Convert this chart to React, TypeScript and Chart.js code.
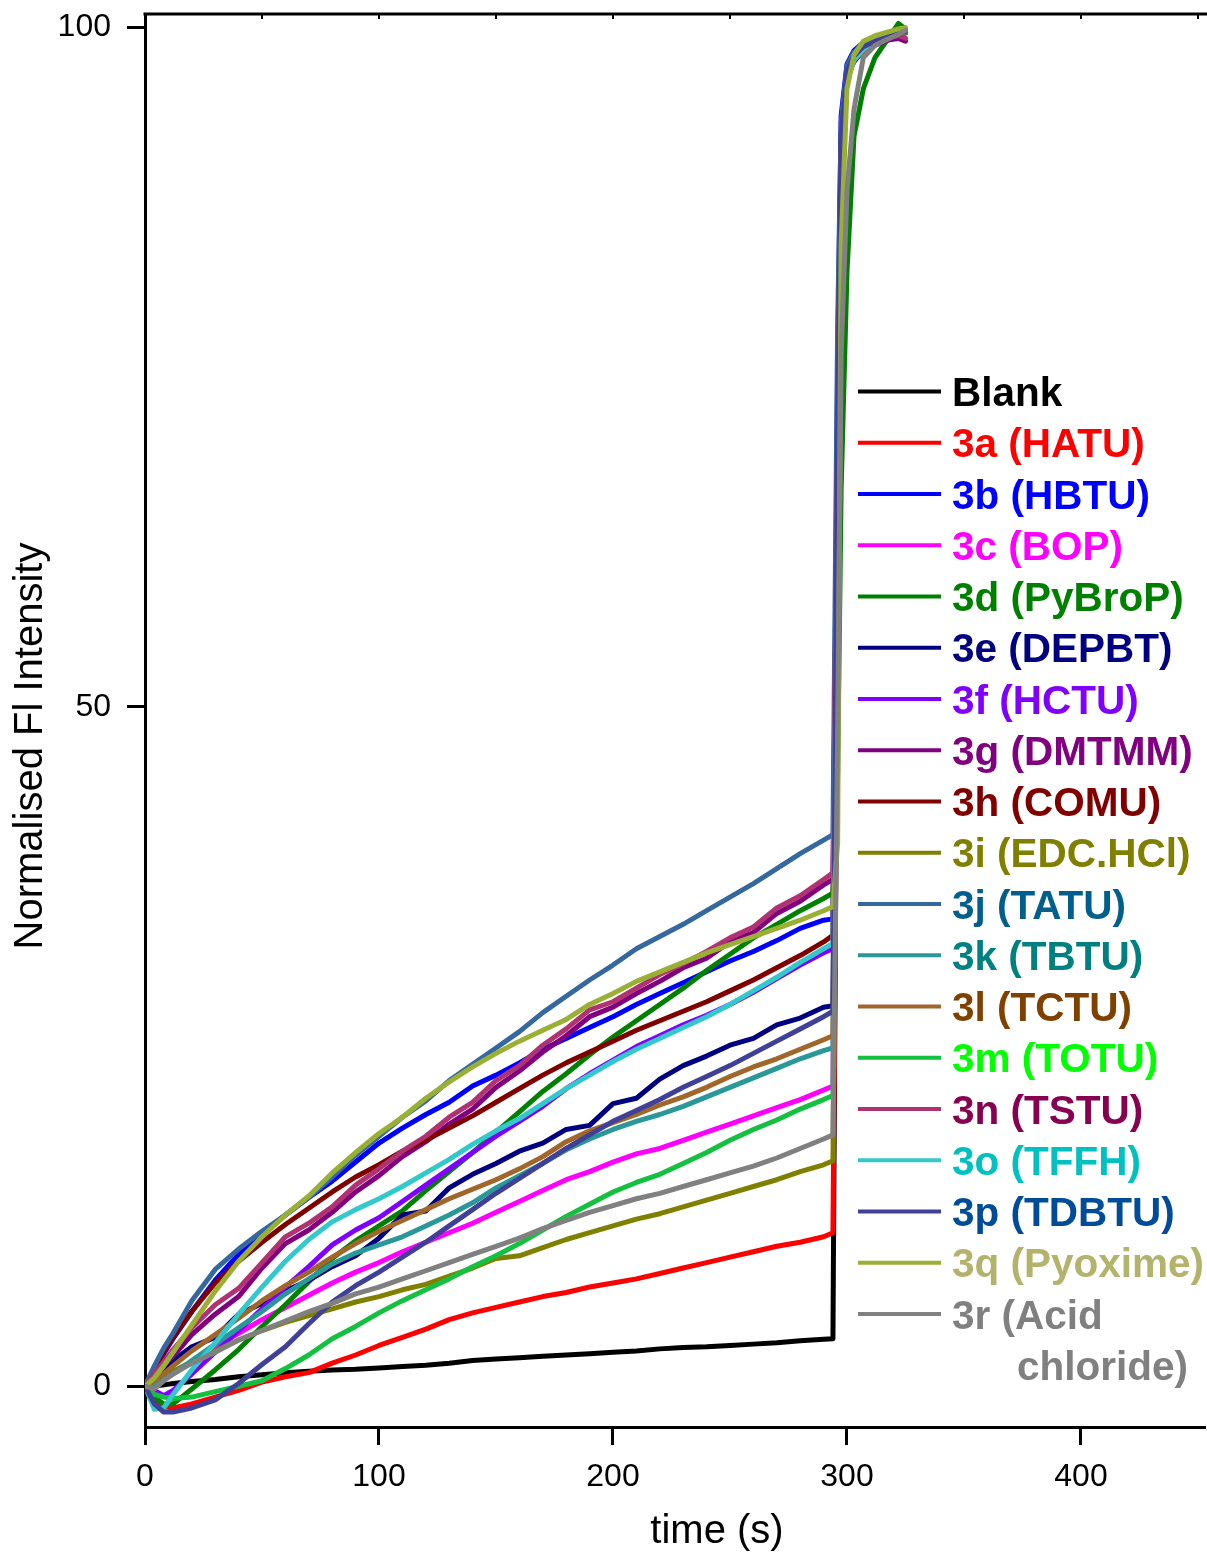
import React, { useEffect, useRef } from 'react';
import { Chart, registerables } from 'chart.js';

Chart.register(...registerables);

const FONT = '"Liberation Sans", Arial, Helvetica, sans-serif';

// time axis of the slow phase (s) and of the jump after the trigger (s)
const TIME_MAIN = [0, 4, 8, 12, 20, 30, 40, 50, 60, 70, 80, 90, 100, 110, 120, 130, 140, 150, 160, 170, 180, 190, 200, 210, 220, 230, 240, 250, 260, 270, 280, 290, 294];
const TIME_TAIL = [296, 297.5, 300, 303, 307, 312, 318, 322, 325];

const X_TICKS = [0, 100, 200, 300, 400];
const Y_TICKS = [0, 50, 100];

const SERIES_NAMES = ['Blank', '3a (HATU)', '3b (HBTU)', '3c (BOP)', '3d (PyBroP)', '3e (DEPBT)', '3f (HCTU)', '3g (DMTMM)', '3h (COMU)', '3i (EDC.HCl)', '3j (TATU)', '3k (TBTU)', '3l (TCTU)', '3m (TOTU)', '3n (TSTU)', '3o (TFFH)', '3p (TDBTU)', '3q (Pyoxime)', '3r (Acid\nchloride)'];
const LINE_COLORS = ['#000000', '#ff0000', '#0000ff', '#ff00ff', '#008000', '#000080', '#8000ff', '#800080', '#800000', '#808000', '#3668a0', '#2a9898', '#a0662a', '#14c040', '#b03272', '#33c8cc', '#404098', '#9ab034', '#808080'];
const TEXT_COLORS = ['#000000', '#ff0000', '#0000ff', '#ff00ff', '#008000', '#000080', '#8000ff', '#800080', '#800000', '#808000', '#005f8c', '#008080', '#804000', '#00ff00', '#880050', '#00c0c0', '#004c99', '#b3b36b', '#808080'];

const blankMain = [0, 0.05, 0.1, 0.2, 0.35, 0.5, 0.7, 0.85, 1.0, 1.1, 1.2, 1.25, 1.35, 1.45, 1.55, 1.7, 1.9, 2.0, 2.1, 2.2, 2.3, 2.4, 2.5, 2.6, 2.75, 2.85, 2.9, 3.0, 3.1, 3.2, 3.35, 3.45, 3.5];
const hatuMain = [0, -1.0, -1.5, -1.6, -1.3, -0.8, -0.3, 0.3, 0.7, 1.0, 1.7, 2.3, 3.0, 3.6, 4.2, 4.9, 5.4, 5.8, 6.2, 6.6, 6.9, 7.3, 7.6, 7.9, 8.3, 8.7, 9.1, 9.5, 9.9, 10.3, 10.6, 11.0, 11.3];
const hbtuMain = [0, 1.2, 2.4, 3.5, 5.5, 7.8, 9.7, 11.2, 12.6, 13.9, 15.1, 16.5, 17.9, 19.0, 20.0, 20.9, 22.1, 22.9, 23.8, 24.8, 25.6, 26.4, 27.2, 28.1, 28.9, 29.7, 30.5, 31.3, 32.0, 32.8, 33.7, 34.3, 34.4];
const bopMain = [0, 0.3, 0.6, 1.0, 1.8, 2.9, 3.9, 4.9, 5.8, 6.7, 7.6, 8.4, 9.1, 9.9, 10.6, 11.3, 12.0, 12.8, 13.6, 14.4, 15.2, 15.8, 16.5, 17.1, 17.5, 18.1, 18.7, 19.3, 19.9, 20.5, 21.1, 21.8, 22.1];
const pybropMain = [0, -0.8, -1.3, -1.3, -0.2, 1.2, 2.7, 4.4, 6.0, 7.7, 9.4, 10.7, 11.8, 12.9, 14.4, 15.8, 17.2, 18.7, 20.2, 21.7, 23.0, 24.4, 25.7, 26.9, 28.1, 29.3, 30.6, 31.8, 33.0, 34.0, 35.0, 35.9, 36.3];
const depbtMain = [0, 0.6, 1.2, 1.9, 2.9, 3.6, 5.3, 6.1, 7.0, 7.8, 8.8, 9.6, 10.9, 12.6, 12.9, 14.6, 15.6, 16.4, 17.3, 17.9, 18.9, 19.2, 20.8, 21.2, 22.6, 23.6, 24.3, 25.1, 25.6, 26.6, 27.1, 27.9, 28.0];
const hctuMain = [0, -0.3, -0.7, -0.3, 0.9, 2.5, 4.1, 5.7, 7.3, 8.8, 10.4, 11.5, 12.4, 13.6, 14.8, 16.0, 17.2, 18.4, 19.5, 20.6, 21.9, 23.0, 24.0, 25.0, 25.8, 26.6, 27.3, 28.1, 29.0, 30.0, 31.0, 31.9, 32.2];
const dmtmmMain = [0, 0.7, 1.5, 2.2, 3.8, 5.3, 6.6, 8.7, 10.5, 11.5, 12.8, 14.3, 15.5, 16.9, 18.0, 19.3, 20.4, 22.0, 23.2, 24.6, 25.8, 27.2, 27.9, 28.9, 29.8, 30.8, 31.5, 32.7, 33.4, 34.8, 35.7, 36.9, 37.3];
const comuMain = [0, 1.3, 2.5, 3.6, 5.5, 7.6, 9.2, 10.6, 11.9, 13.1, 14.3, 15.4, 16.3, 17.3, 18.1, 19.0, 19.9, 20.9, 21.9, 22.9, 23.8, 24.6, 25.4, 26.2, 26.9, 27.6, 28.3, 29.1, 29.9, 30.8, 31.7, 32.7, 33.2];
const edcMain = [0, 0.4, 0.8, 1.1, 1.8, 2.6, 3.4, 4.1, 4.7, 5.2, 5.7, 6.2, 6.6, 7.1, 7.5, 8.1, 8.7, 9.4, 9.6, 10.2, 10.8, 11.3, 11.8, 12.3, 12.7, 13.2, 13.7, 14.2, 14.7, 15.2, 15.8, 16.3, 16.6];
const tatuMain = [0, 1.5, 2.8, 3.9, 6.3, 8.6, 10.1, 11.4, 12.6, 13.9, 15.4, 17.0, 18.4, 19.8, 21.0, 22.5, 23.7, 24.9, 26.1, 27.5, 28.7, 29.9, 31.0, 32.2, 33.1, 34.0, 35.0, 36.0, 37.0, 38.1, 39.2, 40.2, 40.6];
const tbtuMain = [0, 0.2, 0.5, 0.9, 1.9, 3.1, 4.3, 5.5, 6.8, 7.9, 9.0, 9.8, 10.4, 11.0, 11.8, 12.6, 13.5, 14.6, 15.5, 16.4, 17.4, 18.2, 18.9, 19.5, 20.0, 20.6, 21.3, 22.0, 22.7, 23.4, 24.1, 24.7, 24.9];
const tctuMain = [0, 0.4, 0.9, 1.5, 2.6, 3.8, 5.0, 6.3, 7.4, 8.4, 9.5, 10.5, 11.4, 12.2, 13.0, 13.8, 14.5, 15.2, 16.0, 16.9, 18.0, 18.8, 19.4, 20.0, 20.7, 21.3, 22.0, 22.8, 23.5, 24.1, 24.8, 25.5, 25.8];
const totuMain = [0, -0.6, -0.8, -0.9, -0.8, -0.4, 0.0, 0.4, 1.3, 2.3, 3.5, 4.4, 5.4, 6.3, 7.1, 7.9, 8.8, 9.6, 10.5, 11.5, 12.5, 13.4, 14.3, 15.0, 15.6, 16.4, 17.2, 18.1, 18.9, 19.6, 20.4, 21.1, 21.4];
const tstuMain = [0, 0.9, 1.8, 2.7, 4.3, 6.0, 7.2, 9.1, 11.0, 12.0, 13.2, 14.8, 16.0, 17.3, 18.4, 19.8, 20.9, 22.5, 23.6, 25.1, 26.3, 27.7, 28.3, 29.3, 30.3, 31.1, 32.0, 33.0, 33.8, 35.2, 36.1, 37.3, 37.8];
const tffhMain = [0, -1.7, -1.6, -0.6, 1.2, 3.2, 5.3, 7.3, 9.2, 10.8, 12.1, 13.0, 13.8, 14.7, 15.7, 16.7, 17.8, 18.8, 19.7, 20.8, 21.9, 22.9, 23.9, 24.8, 25.6, 26.4, 27.2, 28.1, 29.1, 30.1, 31.2, 32.2, 32.6];
const tdbtuMain = [0, -1.3, -1.9, -1.9, -1.6, -1.0, 0.2, 1.6, 2.9, 4.6, 6.2, 7.4, 8.4, 9.5, 10.6, 11.8, 13.0, 14.2, 15.3, 16.4, 17.5, 18.5, 19.5, 20.3, 21.1, 22.0, 22.8, 23.6, 24.5, 25.4, 26.3, 27.2, 27.6];
const pyoximeMain = [0, 0.6, 1.5, 2.5, 4.5, 7.0, 9.2, 11.0, 12.6, 14.0, 15.7, 17.2, 18.6, 19.8, 21.2, 22.4, 23.5, 24.5, 25.4, 26.2, 27.0, 28.1, 28.9, 29.8, 30.5, 31.2, 31.9, 32.5, 33.1, 33.7, 34.3, 35.0, 35.3];
const acidMain = [0, -0.2, 0.4, 0.9, 1.7, 2.5, 3.4, 4.1, 4.8, 5.5, 6.1, 6.8, 7.3, 7.9, 8.5, 9.1, 9.7, 10.3, 10.9, 11.6, 12.2, 12.8, 13.3, 13.8, 14.2, 14.7, 15.2, 15.7, 16.2, 16.8, 17.5, 18.2, 18.5];

const blankTail = [60, 89, 96.4, 97.9, 98.6, 99.0, 99.4, 99.6, 99.7];
const hatuTail = [55, 88, 96.3, 97.8, 98.6, 99.1, 99.4, 99.6, 99.8];
const hbtuTail = [75, 93.5, 97.3, 98.3, 98.9, 99.2, 99.5, 99.7, 99.9];
const bopTail = [65, 90, 96.6, 98.0, 98.7, 99.1, 99.4, 99.6, 99.7];
const pybropTail = [45, 66, 82, 92, 95.5, 97.8, 99.3, 100.3, 99.9];
const depbtTail = [68, 91.5, 96.5, 97.5, 98.3, 98.9, 99.3, 99.5, 99.6];
const hctuTail = [66, 90.5, 96.6, 97.9, 98.5, 99.0, 99.4, 99.6, 99.7];
const dmtmmTail = [66, 90, 96.2, 97.6, 98.2, 98.7, 99.1, 99.2, 99.0];
const comuTail = [72, 92, 96.8, 98.0, 98.7, 99.1, 99.5, 99.7, 99.8];
const edcTail = [60, 89, 96.5, 98.0, 98.7, 99.1, 99.5, 99.6, 99.7];
const tatuTail = [78, 93, 97.2, 98.2, 98.8, 99.2, 99.5, 99.7, 99.8];
const tbtuTail = [64, 90, 96.5, 97.9, 98.6, 99.1, 99.4, 99.6, 99.7];
const tctuTail = [64, 90, 96.4, 97.6, 98.3, 98.9, 99.3, 99.5, 99.6];
const totuTail = [62, 89, 96.3, 97.8, 98.6, 99.0, 99.4, 99.6, 99.7];
const tstuTail = [70, 91, 96.4, 97.8, 98.4, 98.9, 99.3, 99.4, 99.2];
const tffhTail = [66, 90, 96.0, 97.6, 98.4, 99.0, 99.4, 99.6, 99.7];
const tdbtuTail = [70, 92, 96.8, 97.9, 98.6, 99.0, 99.4, 99.6, 99.7];
const pyoximeTail = [40, 84, 95.5, 98.0, 99.0, 99.4, 99.7, 99.9, 100.0];
const acidTail = [48, 76, 88, 94, 97.8, 98.7, 99.2, 99.5, 99.8];

const MAIN_VALUES = [blankMain, hatuMain, hbtuMain, bopMain, pybropMain, depbtMain, hctuMain, dmtmmMain, comuMain, edcMain, tatuMain, tbtuMain, tctuMain, totuMain, tstuMain, tffhMain, tdbtuMain, pyoximeMain, acidMain];
const TAIL_VALUES = [blankTail, hatuTail, hbtuTail, bopTail, pybropTail, depbtTail, hctuTail, dmtmmTail, comuTail, edcTail, tatuTail, tbtuTail, tctuTail, totuTail, tstuTail, tffhTail, tdbtuTail, pyoximeTail, acidTail];

const frameAndTitles = {
  id: 'frameAndTitles',
  afterDraw(chart: any) {
    const { ctx, chartArea, scales } = chart;
    ctx.save();
    // top frame line
    ctx.strokeStyle = '#000';
    ctx.lineWidth = 3;
    ctx.beginPath();
    ctx.moveTo(chartArea.left - 1.5, chartArea.top);
    ctx.lineTo(chart.width, chartArea.top);
    ctx.stroke();
    // small inward ticks on the top frame
    ctx.lineWidth = 2;
    for (let v = 50; v <= 450; v += 50) {
      const px = scales.x.getPixelForValue(v);
      ctx.beginPath();
      ctx.moveTo(px, chartArea.top);
      ctx.lineTo(px, chartArea.top + 5);
      ctx.stroke();
    }
    // axis titles
    ctx.fillStyle = '#000';
    ctx.font = `40px ${FONT}`;
    ctx.textAlign = 'center';
    ctx.textBaseline = 'middle';
    ctx.fillText('time (s)', 717, 1532);
    ctx.save();
    ctx.translate(31, 746);
    ctx.rotate(-Math.PI / 2);
    ctx.fillText('Normalised Fl Intensity', 0, 0);
    ctx.restore();

    // legend
    const x0 = 858, x1 = 941, tx = 952, base0 = 406, step = 51.25;
    ctx.font = `bold 40.5px ${FONT}`;
    ctx.textAlign = 'left';
    ctx.textBaseline = 'alphabetic';
    let row = 0;
    SERIES_NAMES.forEach((name, i) => {
      const base = base0 + step * row;
      ctx.strokeStyle = LINE_COLORS[i];
      ctx.lineWidth = 4;
      ctx.beginPath();
      ctx.moveTo(x0, base - 14.5);
      ctx.lineTo(x1, base - 14.5);
      ctx.stroke();
      ctx.fillStyle = TEXT_COLORS[i];
      const parts = name.split('\n');
      parts.forEach((p, k) => {
        ctx.fillText(p, tx + (k > 0 ? 65 : 0), base0 + step * (row + k));
      });
      row += parts.length;
    });
    ctx.restore();
  },
};

export default function App() {
  const ref = useRef<HTMLCanvasElement | null>(null);
  useEffect(() => {
    if (!ref.current) return;
    const datasets = SERIES_NAMES.map((name, i) => ({
      label: name,
      data: [
        ...TIME_MAIN.map((t, j) => ({ x: t, y: MAIN_VALUES[i][j] })),
        ...TIME_TAIL.map((t, j) => ({ x: t, y: TAIL_VALUES[i][j] })),
      ],
      borderColor: LINE_COLORS[i],
      backgroundColor: LINE_COLORS[i],
      borderWidth: 5,
      pointRadius: 0,
      tension: 0,
      fill: false,
      borderJoinStyle: 'round' as const,
      borderCapStyle: 'round' as const,
      order: -i,
    }));
    const chart = new Chart(ref.current, {
      type: 'line',
      data: { datasets },
      options: {
        animation: false,
        responsive: false,
        devicePixelRatio: 1,
        layout: { padding: { left: 0, right: 2, top: 14, bottom: 0 } },
        plugins: { legend: { display: false }, tooltip: { enabled: false } },
        scales: {
          x: {
            type: 'linear',
            min: 0,
            max: 453,
            afterBuildTicks: (s: any) => { s.ticks = X_TICKS.map((v) => ({ value: v })); },
            afterFit: (s: any) => { s.height = 131; s.paddingLeft = 0; s.paddingRight = 0; },
            ticks: { color: '#000', font: { family: FONT, size: 32 }, padding: 13, maxRotation: 0, autoSkip: false },
            grid: { display: true, drawOnChartArea: false, drawTicks: true, tickLength: 18, tickWidth: 3, color: '#000' },
            border: { display: true, color: '#000', width: 3 },
          },
          y: {
            type: 'linear',
            min: -3,
            max: 101,
            afterBuildTicks: (s: any) => { s.ticks = Y_TICKS.map((v) => ({ value: v })); },
            afterFit: (s: any) => { s.width = 145; s.paddingTop = 0; s.paddingBottom = 0; },
            ticks: { color: '#000', font: { family: FONT, size: 32 }, padding: 16, autoSkip: false },
            grid: { display: true, drawOnChartArea: false, drawTicks: true, tickLength: 18, tickWidth: 3, color: '#000' },
            border: { display: true, color: '#000', width: 3 },
          },
        },
      },
      plugins: [frameAndTitles],
    });
    return () => chart.destroy();
  }, []);
  return (
    <div style={{ position: 'absolute', left: 0, top: 0, width: 1207, height: 1558, background: '#fff' }}>
      <canvas ref={ref} width={1207} height={1558} style={{ display: 'block' }} />
    </div>
  );
}
